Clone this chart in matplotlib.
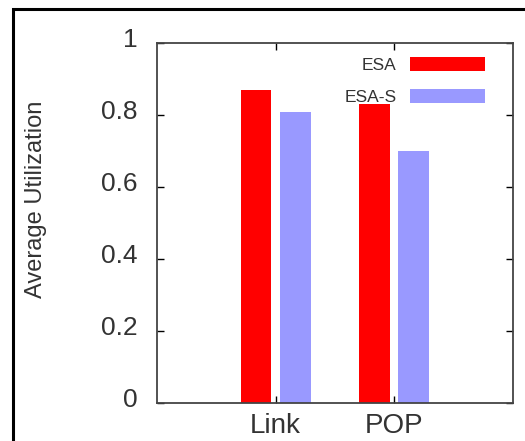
import matplotlib
matplotlib.use("Agg")
import matplotlib.pyplot as plt
import matplotlib.transforms as mtransforms
from matplotlib.patches import Rectangle
import numpy as np

# values
categories = ["Link", "POP"]
esa = [0.87, 0.83]
esa_s = [0.81, 0.70]
series_names = ["ESA", "ESA-S"]
y_ticks = [0, 0.2, 0.4, 0.6, 0.8, 1.0]
y_tick_labels = ["0", "0.2", "0.4", "0.6", "0.8", "1"]

plt.rcParams["font.family"] = ["Liberation Sans", "DejaVu Sans"]

fig = plt.figure(figsize=(5.25, 4.41), dpi=100)
ax = fig.add_axes([0.299, 0.086, 0.678, 0.816])

x = np.arange(1, len(categories) + 1)
w = 0.26
ax.bar(x - 0.165, esa, w, color="#ff0000", label=series_names[0])
ax.bar(x + 0.165, esa_s, w, color="#9999ff", label=series_names[1])

ax.set_xlim(0, 3)
ax.set_ylim(0, 1)
ax.set_xticks(x)
ax.set_xticklabels(categories, fontsize=20, color="#333333")
ax.set_yticks(y_ticks)
ax.set_yticklabels(y_tick_labels, fontsize=19, color="#333333")
ax.tick_params(axis="y", direction="in", length=5, width=1, right=True, pad=14)
ax.tick_params(axis="x", direction="in", length=5, width=1, top=True, pad=7)
for s in ax.spines.values():
    s.set_linewidth(1.3)
    s.set_color("#444444")

# gnuplot-like labels sit a little above their ticks
offset = mtransforms.ScaledTranslation(0, 4 / 72, fig.dpi_scale_trans)
for lab in ax.get_yticklabels():
    lab.set_transform(lab.get_transform() + offset)

ax.set_ylabel("Average Utilization", fontsize=17, color="#333333")
ax.yaxis.set_label_coords(-0.31, 0.565)

leg = ax.legend(loc="upper right", bbox_to_anchor=(0.965, 1.005), frameon=False,
                markerfirst=False, fontsize=12.5, handlelength=4.3,
                handleheight=0.85, handletextpad=0.8, labelspacing=0.95)
for t in leg.get_texts():
    t.set_color("#333333")

# outer black frame of the original screenshot
fig.patches.append(Rectangle((13 / 525, -0.1), 1.2, 0.98 + 0.1,
                             transform=fig.transFigure, fill=False,
                             edgecolor="black", linewidth=2.2, clip_on=False))

fig.savefig("out.png", dpi=100)
